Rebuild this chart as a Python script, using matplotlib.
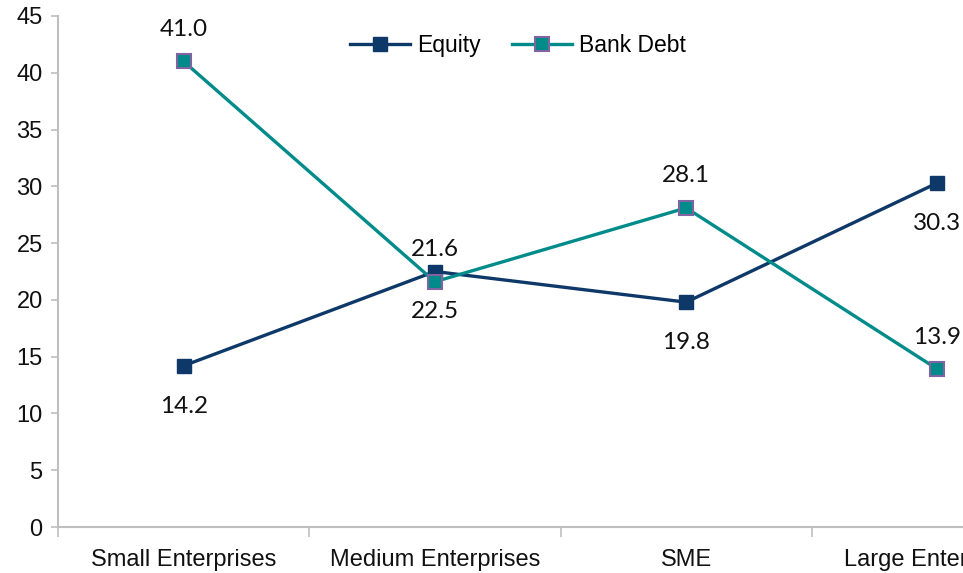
import matplotlib.pyplot as plt
import numpy as np

categories = ["Small Enterprises", "Medium Enterprises", "SME", "Large Enterprises"]
equity = [14.2, 22.5, 19.8, 30.3]
bank_debt = [41.0, 21.6, 28.1, 13.9]

navy = "#0D3868"
teal = "#008B8B"
purple = "#8064A2"
grey = "#BFBFBF"

fig = plt.figure(figsize=(9.63, 5.73), dpi=100)
# the plot runs past the right edge of the figure, last category gets cut
ax = fig.add_axes([58 / 963, 46 / 573, 1005 / 963, 511 / 573])

x = np.arange(len(categories))
ax.plot(x, equity, color=navy, lw=2.4, marker="s", ms=10,
        mfc=navy, mec=navy, label="Equity", zorder=3)
ax.plot(x, bank_debt, color=teal, lw=2.4, marker="s", ms=10,
        mfc=teal, mec=purple, mew=1.5, label="Bank Debt", zorder=4)

lab_font = dict(family=["Lato", "DejaVu Sans"], fontsize=17.5, color="#111111")
for xi, v in zip(x, equity):
    ax.annotate(f"{v:.1f}", (xi, v), xytext=(0, -29), textcoords="offset points",
                ha="center", va="center", **lab_font)
for xi, v in zip(x, bank_debt):
    ax.annotate(f"{v:.1f}", (xi, v), xytext=(0, 23), textcoords="offset points",
                ha="center", va="center", **lab_font)

ax.set_xlim(-0.5, 3.5)
ax.set_ylim(0, 45)
ax.set_yticks(np.arange(0, 46, 5))
ax.set_xticks(np.arange(-0.5, 3.6, 1))
ax.set_xticklabels([])
ax.set_xticks(x, minor=True)
ax.set_xticklabels(categories, minor=True)

for s in ["top", "right"]:
    ax.spines[s].set_visible(False)
for s in ["left", "bottom"]:
    ax.spines[s].set_color(grey)
    ax.spines[s].set_linewidth(1.5)

ax.tick_params(axis="y", which="major", length=5, width=1.2, color=grey,
               labelsize=17, pad=6)
ax.tick_params(axis="x", which="major", length=7, width=1.2, color=grey)
ax.tick_params(axis="x", which="minor", length=0, labelsize=17, pad=16)
for t in ax.get_yticklabels() + ax.get_xticklabels(minor=True):
    t.set_family(["Liberation Sans", "DejaVu Sans"])
    t.set_color("#111111")

leg = ax.legend(loc="upper center", bbox_to_anchor=(460 / 1005, 1.0),
                ncol=2, frameon=False, prop={"family": ["Liberation Sans"], "size": 16.5},
                handlelength=2.6, columnspacing=1.4, handletextpad=0.3,
                borderaxespad=0.4)

fig.savefig("out.png", dpi=100)
